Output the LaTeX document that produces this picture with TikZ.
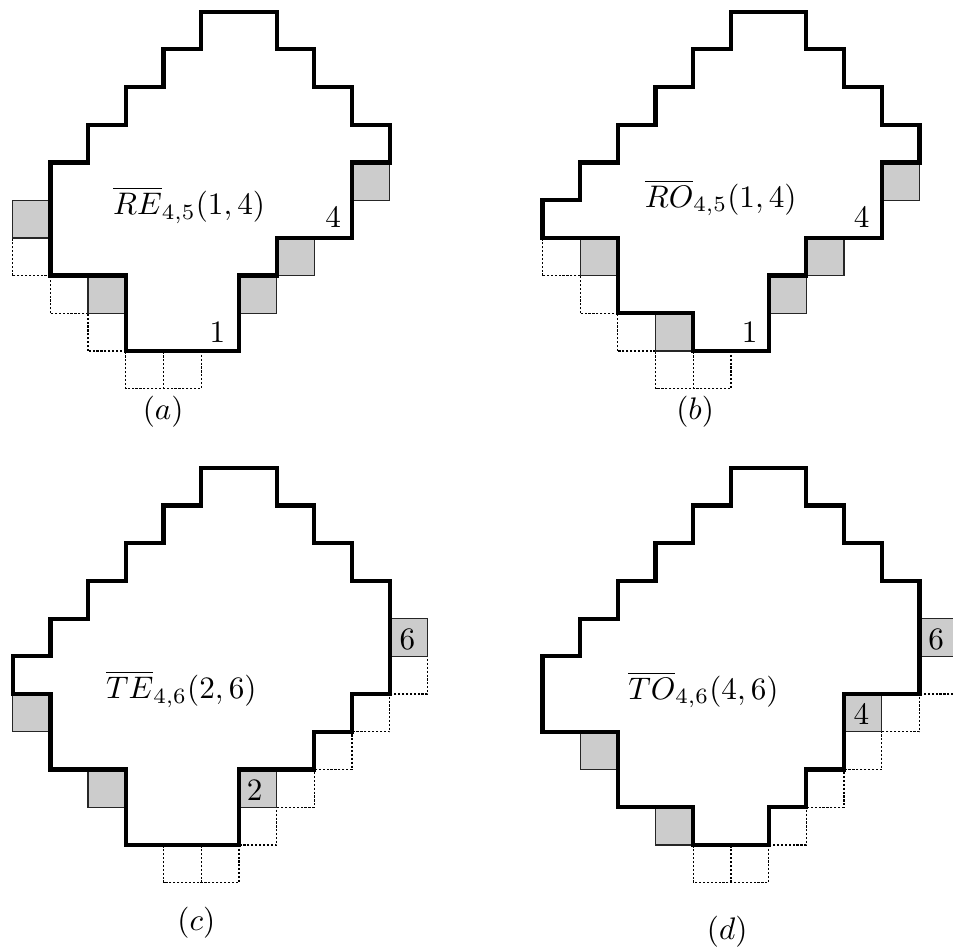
\documentclass[tikz,border=0pt]{standalone}
\begin{document}
\begin{tikzpicture}[x=0.425cm,y=0.425cm,
  rim/.style={line width=1.35pt,line join=miter},
  greybox/.style={fill=gray!40,draw=black!85,line width=0.4pt},
  dotbox/.style={dash pattern=on 0.7pt off 0.55pt,line width=0.4pt}]
\useasboundingbox (-0.337,-2.785) rectangle (24.94,22.41);
% (a)
\begin{scope}[shift={(0,13.1)}]
\draw[dotbox] (0,2) rectangle (1,3) (1,1) rectangle (2,2) (2,0) rectangle (3,1)
  (3,-1) rectangle (5,0) (4,-1) -- (4,0);
\filldraw[greybox] (0,3) rectangle (1,4) (2,1) rectangle (3,2) (6,1) rectangle (7,2)
  (7,2) rectangle (8,3) (9,4) rectangle (10,5);
\draw[rim] (5,9) -- (7,9) -- (7,8) -- (8,8) -- (8,7) -- (9,7) -- (9,6) -- (10,6) -- (10,5)
  -- (9,5) -- (9,3) -- (7,3) -- (7,2) -- (6,2) -- (6,0) -- (3,0) -- (3,2) -- (1,2)
  -- (1,5) -- (2,5) -- (2,6) -- (3,6) -- (3,7) -- (4,7) -- (4,8) -- (5,8) -- cycle;
\node (rea) at (4.68,3.87) {$\overline{RE}_{4,5}(1,4)$};
\node (onea) at (5.43,0.48) {$1$};
\node (foura) at (8.5,3.55) {$4$};
\node (capa) at (3.99,-1.6) {$(a)$};
\end{scope}
% (b)
\begin{scope}[shift={(14.05,13.1)}]
\draw[dotbox] (0,2) rectangle (1,3) (1,1) rectangle (2,2) (2,0) rectangle (3,1)
  (3,-1) rectangle (5,0) (4,-1) -- (4,0);
\filldraw[greybox] (1,2) rectangle (2,3) (3,0) rectangle (4,1) (6,1) rectangle (7,2)
  (7,2) rectangle (8,3) (9,4) rectangle (10,5);
\draw[rim] (5,9) -- (7,9) -- (7,8) -- (8,8) -- (8,7) -- (9,7) -- (9,6) -- (10,6) -- (10,5)
  -- (9,5) -- (9,3) -- (7,3) -- (7,2) -- (6,2) -- (6,0) -- (4,0) -- (4,1) -- (2,1)
  -- (2,3) -- (0,3) -- (0,4) -- (1,4) -- (1,5) -- (2,5) -- (2,6) -- (3,6) -- (3,7)
  -- (4,7) -- (4,8) -- (5,8) -- cycle;
\node (rob) at (4.73,4.06) {$\overline{RO}_{4,5}(1,4)$};
\node (oneb) at (5.5,0.5) {$1$};
\node (fourb) at (8.47,3.53) {$4$};
\node (capb) at (4.05,-1.6) {$(b)$};
\end{scope}
% (c)
\begin{scope}
\draw[dotbox] (9,3) rectangle (10,4) (10,4) rectangle (11,5) (8,2) rectangle (9,3)
  (7,1) rectangle (8,2) (6,0) rectangle (7,1) (4,-1) rectangle (6,0) (5,-1) -- (5,0);
\filldraw[greybox] (0,3) rectangle (1,4) (2,1) rectangle (3,2) (6,1) rectangle (7,2)
  (10,5) rectangle (11,6);
\draw[rim] (5,10) -- (7,10) -- (7,9) -- (8,9) -- (8,8) -- (9,8) -- (9,7) -- (10,7) -- (10,4)
  -- (9,4) -- (9,3) -- (8,3) -- (8,2) -- (6,2) -- (6,0) -- (3,0) -- (3,2) -- (1,2)
  -- (1,4) -- (0,4) -- (0,5) -- (1,5) -- (1,6) -- (2,6) -- (2,7) -- (3,7) -- (3,8)
  -- (4,8) -- (4,9) -- (5,9) -- cycle;
\node (tec) at (4.47,4.13) {$\overline{TE}_{4,6}(2,6)$};
\node (twoc) at (6.42,1.45) {$2$};
\node (sixc) at (10.47,5.46) {$6$};
\node (capc) at (4.87,-2.07) {$(c)$};
\end{scope}
% (d)
\begin{scope}[shift={(14.05,0)}]
\draw[dotbox] (9,3) rectangle (10,4) (10,4) rectangle (11,5) (8,2) rectangle (9,3)
  (7,1) rectangle (8,2) (6,0) rectangle (7,1) (4,-1) rectangle (6,0) (5,-1) -- (5,0);
\filldraw[greybox] (1,2) rectangle (2,3) (3,0) rectangle (4,1) (8,3) rectangle (9,4)
  (10,5) rectangle (11,6);
\draw[rim] (5,10) -- (7,10) -- (7,9) -- (8,9) -- (8,8) -- (9,8) -- (9,7) -- (10,7) -- (10,4)
  -- (8,4) -- (8,2) -- (7,2) -- (7,1) -- (6,1) -- (6,0) -- (4,0) -- (4,1) -- (2,1)
  -- (2,3) -- (0,3) -- (0,5) -- (1,5) -- (1,6) -- (2,6) -- (2,7) -- (3,7) -- (3,8)
  -- (4,8) -- (4,9) -- (5,9) -- cycle;
\node (tod) at (4.27,4.11) {$\overline{TO}_{4,6}(4,6)$};
\node (fourd) at (8.46,3.45) {$4$};
\node (sixd) at (10.44,5.44) {$6$};
\node (capd) at (4.9,-2.31) {$(d)$};
\end{scope}
\end{tikzpicture}
\end{document}
